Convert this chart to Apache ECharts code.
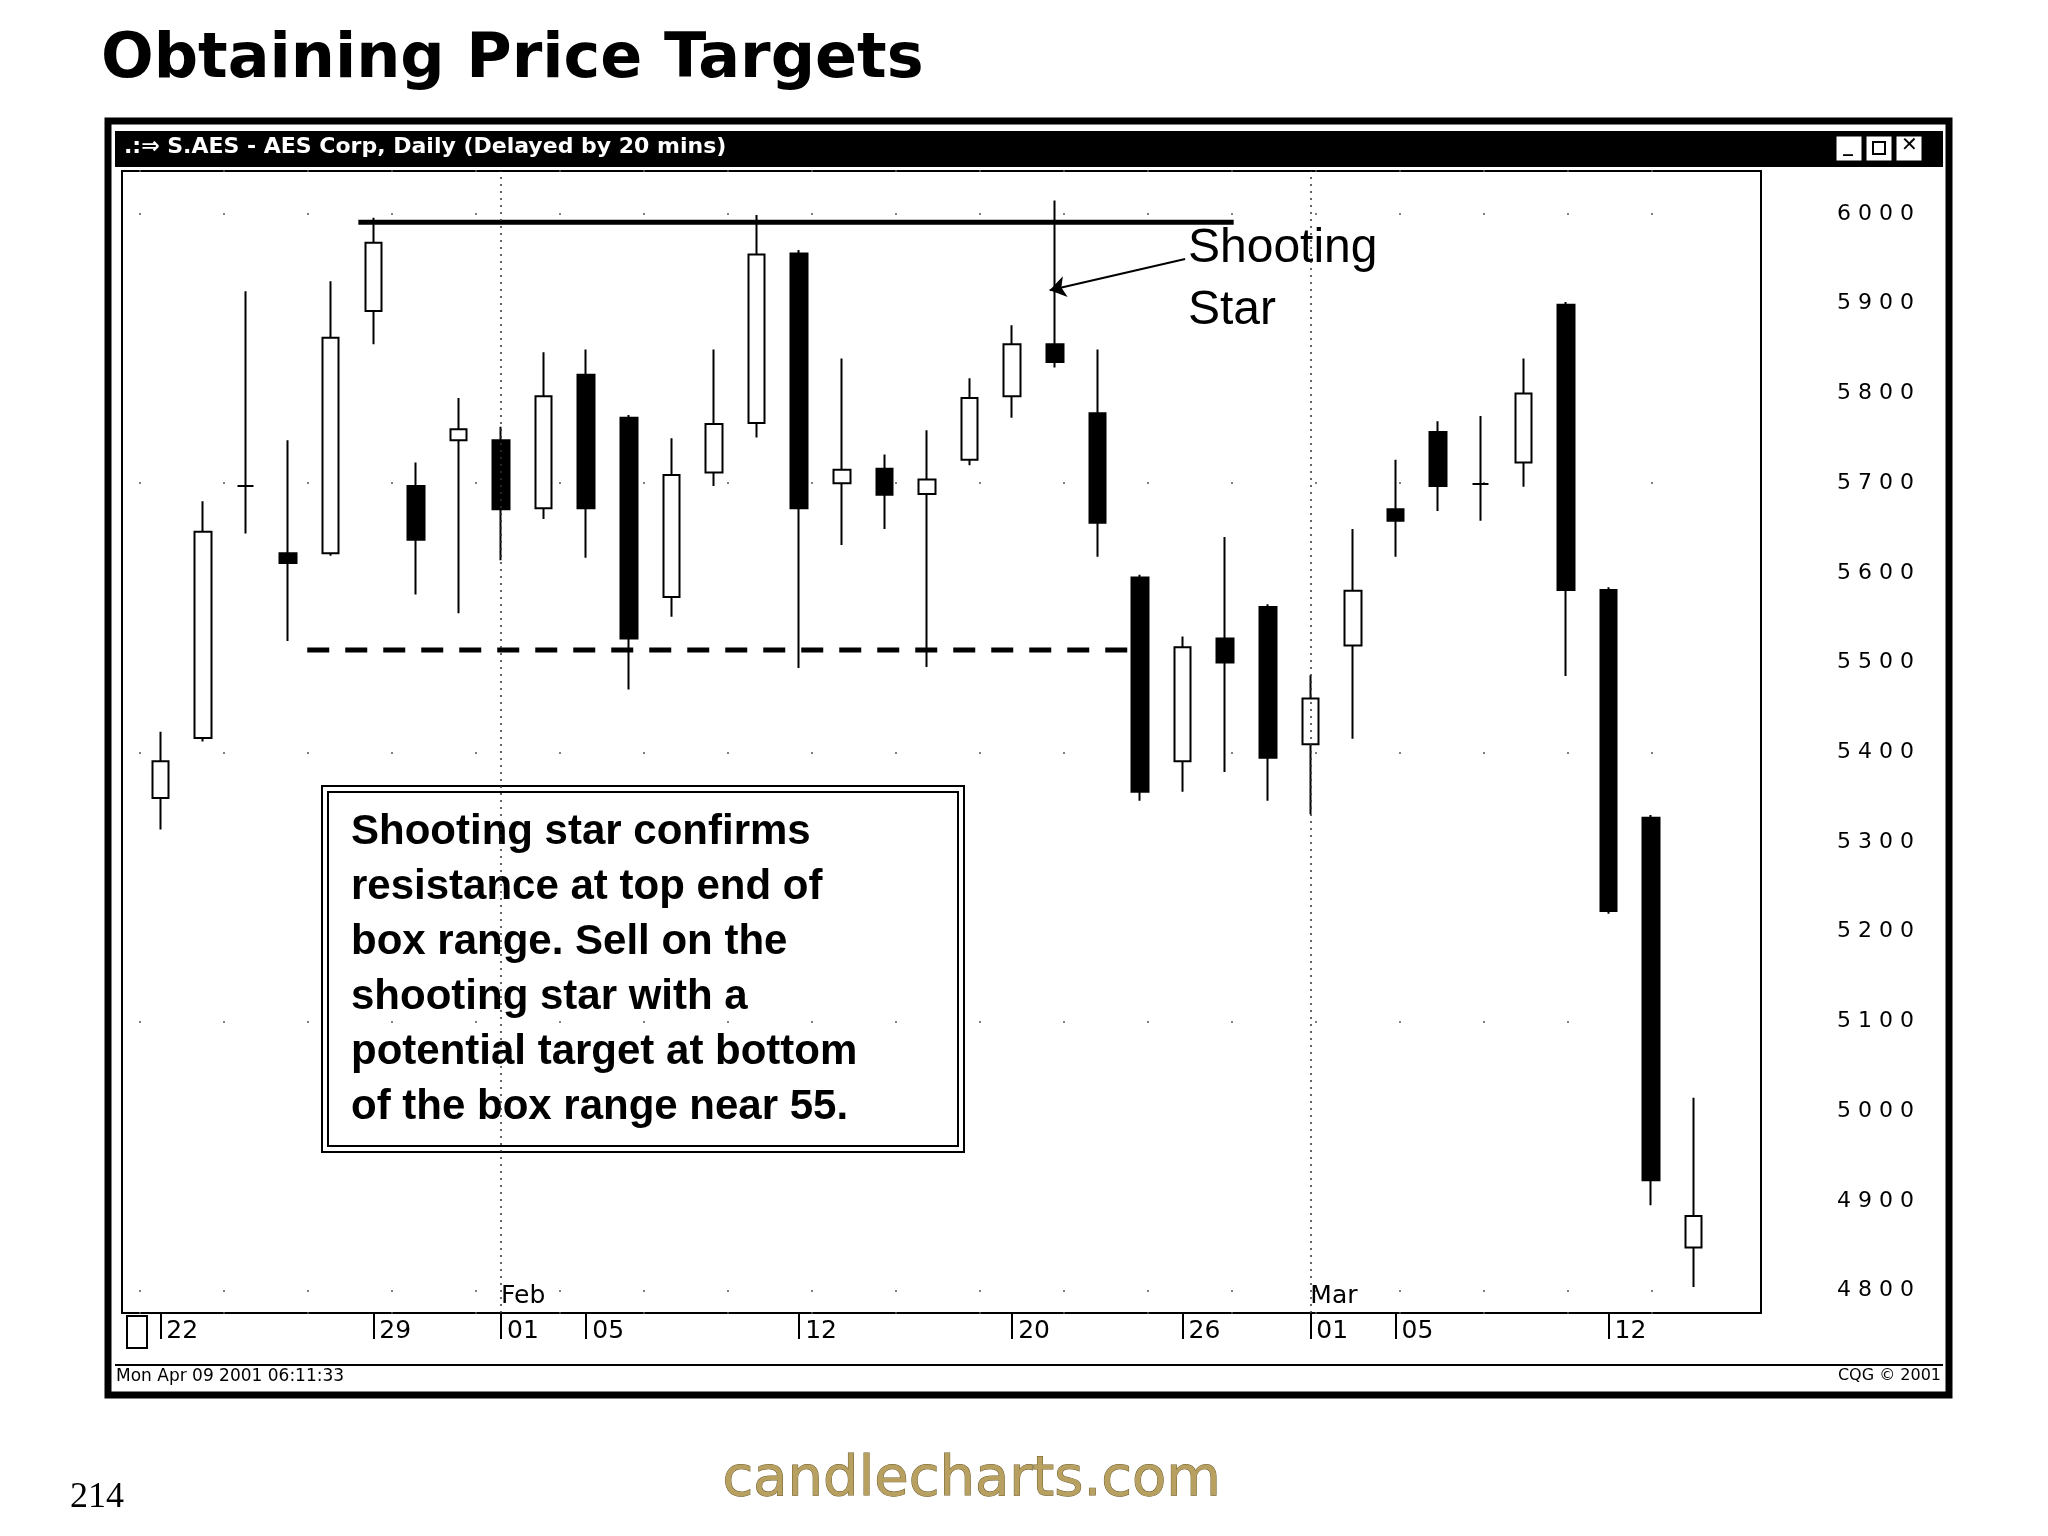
<!DOCTYPE html>
<html><head><meta charset="utf-8">
<script src="https://cdn.jsdelivr.net/npm/echarts@6/dist/echarts.min.js"></script>
<style>html,body{margin:0;background:#fff}#c{width:2048px;height:1536px}</style>
</head><body><div id="c"></div>
<script>
// trading days, Jan 22 - Mar 14 2001
var days = ['01-22','01-23','01-24','01-25','01-26','01-29','01-30','01-31','02-01','02-02',
  '02-05','02-06','02-07','02-08','02-09','02-12','02-13','02-14','02-15','02-16',
  '02-20','02-21','02-22','02-23','02-26','02-27','02-28','03-01','03-02','03-05',
  '03-06','03-07','03-08','03-09','03-12','03-13','03-14'];
var opens  = [5349,5416,5697,5622,5622,5892,5697,5748,5748,5672,5821,5773,5573,5712,5767,5956,5700,5716,5688,5726,5797,5855,5778,5595,5390,5527,5562,5409,5519,5671,5757,5699,5723,5899,5581,5327,4848];
var closes = [5390,5646,5697,5611,5862,5968,5637,5760,5671,5797,5672,5527,5709,5766,5955,5672,5715,5687,5704,5795,5855,5835,5656,5356,5517,5500,5394,5460,5580,5658,5697,5699,5800,5581,5223,4923,4883];
var lows   = [5314,5412,5644,5524,5619,5855,5576,5555,5614,5660,5617,5470,5551,5697,5751,5494,5631,5649,5495,5720,5773,5829,5618,5346,5356,5378,5346,5331,5415,5618,5669,5658,5696,5485,5220,4895,4804];
var highs  = [5423,5680,5914,5748,5925,5996,5723,5795,5763,5846,5849,5776,5750,5849,5999,5960,5839,5732,5759,5817,5876,6015,5849,5598,5529,5640,5565,5486,5649,5726,5769,5775,5839,5902,5584,5330,5015];
var dayLabels = {0:'22',5:'29',8:'01',10:'05',15:'12',20:'20',24:'26',27:'01',29:'05',34:'12'};
var monthLabels = {8:'Feb',27:'Mar'};
var priceTicks = [4800,4900,5000,5100,5200,5300,5400,5500,5600,5700,5800,5900,6000];
var resistance = [[4.65,5991],[25.2,5991]];
var support = [[3.45,5514],[22.9,5514]];
var arrowLine = [[24.06,5950],[20.88,5915]];
var monthLines = [8,27];

var chart = echarts.init(document.getElementById('c'));
var F = 'DejaVu Sans';
var candles = days.map(function (d, i) { return [opens[i], closes[i], lows[i], highs[i]]; });
var boxText = ['Shooting star confirms','resistance at top end of','box range. Sell on the',
  'shooting star with a','potential target at bottom','of the box range near 55.'];
var showDay = function (i) { return dayLabels[i] !== undefined; };

var option = {
  animation: false,
  backgroundColor: '#fff',
  grid: { left: 139, width: 1576, top: 171, height: 1142 },
  xAxis: [{
    type: 'category', data: days, boundaryGap: true,
    axisLine: { show: true, lineStyle: { color: 'rgba(0,0,0,0)' } },
    axisTick: { show: true, alignWithLabel: true, inside: false, length: 26, lineStyle: { color: '#000', width: 2 },
      interval: showDay },
    axisLabel: { interval: showDay,
      formatter: function (v, i) { return dayLabels[i] || ''; },
      align: 'left', padding: [0, 0, 0, 6], margin: 6, fontFamily: F, fontSize: 25, color: '#000' },
    splitLine: { show: false }
  }, {
    type: 'category', data: days, position: 'bottom',
    axisLine: { show: false }, axisTick: { show: false },
    axisLabel: { inside: true, interval: function (i) { return monthLabels[i] !== undefined; },
      formatter: function (v, i) { return monthLabels[i] || ''; },
      align: 'left', margin: 4, fontFamily: F, fontSize: 25, color: '#000' }
  }, {
    type: 'value', min: -0.5, max: 36.5, show: false
  }],
  yAxis: {
    type: 'value', min: 4775, max: 6048, position: 'right',
    axisLine: { show: false }, axisTick: { show: false },
    axisLabel: { customValues: priceTicks, margin: 122, fontFamily: F, fontSize: 22, color: '#000',
      formatter: function (v) { return String(v).split('').join(' '); } },
    splitLine: { show: true, lineStyle: { color: '#555', width: 1.5, type: [2, 82] } }
  },
  series: [{
    type: 'candlestick', data: candles, barWidth: 17,
    itemStyle: { color: '#fff', color0: '#000', borderColor: '#000', borderColor0: '#000', borderWidth: 2 }
  }, {
    type: 'line', xAxisIndex: 2, data: resistance, symbol: 'none',
    lineStyle: { color: '#000', width: 5 }
  }, {
    type: 'line', xAxisIndex: 2, data: support, symbol: 'none',
    lineStyle: { color: '#000', width: 5, type: [22, 16] }
  }, {
    type: 'line', xAxisIndex: 2, data: [], symbol: 'none',
    markLine: { silent: true, symbol: 'none', label: { show: false },
      lineStyle: { color: '#333', width: 1.5, type: [2, 5] },
      data: monthLines.map(function (m) { return { xAxis: m }; }) }
  }, {
    type: 'line', xAxisIndex: 2, data: [], symbol: 'none',
    markLine: { silent: true, symbol: ['none', 'arrow'], symbolSize: 16, label: { show: false },
      lineStyle: { color: '#000', width: 2, type: 'solid' },
      data: [[{ coord: arrowLine[0] }, { coord: arrowLine[1] }]] }
  }],
  graphic: [
    { type: 'text', left: 101, top: 30, style: { text: 'Obtaining Price Targets', font: 'bold 62px "DejaVu Sans"', fill: '#000', shadowColor: '#999', shadowOffsetX: 4, shadowOffsetY: 4, shadowBlur: 2 } },
    { type: 'rect', shape: { x: 108, y: 121, width: 1841, height: 1274 }, style: { fill: 'none', stroke: '#000', lineWidth: 7 } },
    { type: 'rect', shape: { x: 115, y: 131, width: 1828, height: 36 }, style: { fill: '#000' } },
    { type: 'text', left: 124, top: 136, style: { text: '.:⇒ S.AES - AES Corp, Daily (Delayed by 20 mins)', font: 'bold 22px "DejaVu Sans"', fill: '#fff' } },
    { type: 'rect', shape: { x: 1836, y: 136, width: 26, height: 25 }, style: { fill: '#fff', stroke: '#000' } },
    { type: 'rect', shape: { x: 1866, y: 136, width: 26, height: 25 }, style: { fill: '#fff', stroke: '#000' } },
    { type: 'rect', shape: { x: 1896, y: 136, width: 26, height: 25 }, style: { fill: '#fff', stroke: '#000' } },
    { type: 'text', left: 1843, top: 136, style: { text: '_', font: 'bold 20px "DejaVu Sans"', fill: '#000' } },
    { type: 'rect', shape: { x: 1873, y: 142, width: 12, height: 12 }, style: { fill: 'none', stroke: '#000', lineWidth: 2 } },
    { type: 'text', left: 1901, top: 136, style: { text: '✕', font: 'bold 20px "DejaVu Sans"', fill: '#000' } },
    { type: 'rect', shape: { x: 122, y: 171, width: 1639, height: 1142 }, style: { fill: 'none', stroke: '#000', lineWidth: 2 } },
    { type: 'rect', shape: { x: 127, y: 1316, width: 20, height: 32 }, style: { fill: 'none', stroke: '#000', lineWidth: 2 } },
    { type: 'line', shape: { x1: 115, y1: 1365, x2: 1943, y2: 1365 }, style: { stroke: '#000', lineWidth: 2 } },
    { type: 'text', left: 116, top: 1368, style: { text: 'Mon Apr 09 2001 06:11:33', font: '17px "DejaVu Sans"', fill: '#000' } },
    { type: 'text', right: 107, top: 1368, style: { text: 'CQG © 2001', font: '16px "DejaVu Sans"', fill: '#000' } },
    { type: 'text', left: 1188, top: 218, style: { text: 'Shooting\nStar', font: '48px "Liberation Sans"', lineHeight: 62, fill: '#000' } },
    { type: 'rect', shape: { x: 322, y: 786, width: 642, height: 366 }, style: { fill: '#fff', stroke: '#000', lineWidth: 2 } },
    { type: 'rect', shape: { x: 328, y: 792, width: 630, height: 354 }, style: { fill: 'none', stroke: '#000', lineWidth: 2 } },
    { type: 'text', left: 351, top: 805, style: { text: boxText.join('\n'), font: 'bold 42px "Liberation Sans"', lineHeight: 55, fill: '#000' } },
    { type: 'text', left: 70, top: 1480, style: { text: '214', font: '36px "Liberation Serif"', fill: '#000' } },
    { type: 'text', left: 722, top: 1452, style: { text: 'candlecharts.com', font: '56px "DejaVu Sans"', fill: '#b8a060', stroke: '#6b5a2a', lineWidth: 1 } }
  ]
};
chart.setOption(option);
</script></body></html>
